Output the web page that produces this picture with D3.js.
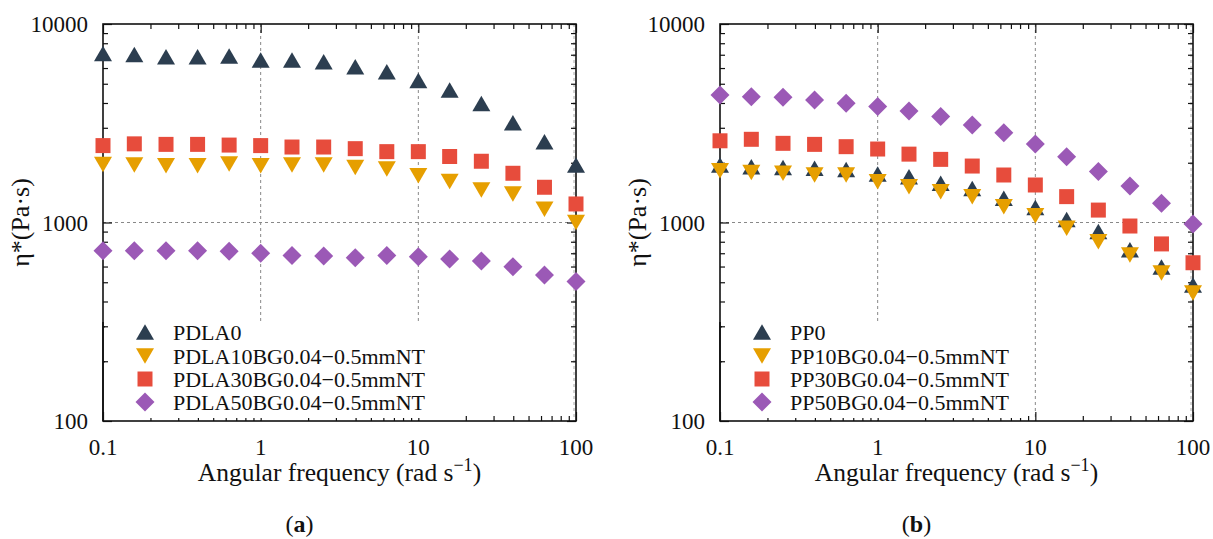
<!DOCTYPE html>
<html>
<head>
<meta charset="utf-8">
<script src="https://cdn.jsdelivr.net/npm/d3@7"></script>
<style>
  html, body { margin: 0; padding: 0; background: #fff; }
  svg { display: block; }
  text { font-family: "Liberation Serif", "DejaVu Serif", serif; fill: #111; }
</style>
</head>
<body>
<svg id="chart" width="1213" height="539" font-family="Liberation Serif, serif"></svg>
<script>
// ---- data ----
const freq = [0.1, 0.158, 0.251, 0.398, 0.631, 1, 1.58, 2.51, 3.98, 6.31, 10, 15.8, 25.1, 39.8, 63.1, 100];

const seriesNamesA = ["PDLA0", "PDLA10BG0.04\u22120.5mmNT", "PDLA30BG0.04\u22120.5mmNT", "PDLA50BG0.04\u22120.5mmNT"];
const pdla0  = [7110, 7030, 6840, 6840, 6900, 6590, 6590, 6450, 6090, 5750, 5190, 4650, 3980, 3180, 2550, 1950];
const pdla10 = [1960, 1950, 1930, 1930, 1970, 1930, 1950, 1950, 1890, 1860, 1720, 1610, 1460, 1390, 1165, 1000];
const pdla30 = [2440, 2490, 2475, 2475, 2455, 2440, 2400, 2400, 2355, 2275, 2275, 2150, 2035, 1770, 1505, 1240];
const pdla50 = [721, 721, 721, 721, 716, 700, 681, 678, 665, 681, 673, 655, 640, 599, 544, 504];

const seriesNamesB = ["PP0", "PP10BG0.04\u22120.5mmNT", "PP30BG0.04\u22120.5mmNT", "PP50BG0.04\u22120.5mmNT"];
const pp0  = [1950, 1910, 1895, 1875, 1850, 1755, 1700, 1575, 1485, 1325, 1190, 1035, 900, 730, 597, 484];
const pp10 = [1825, 1785, 1770, 1735, 1735, 1605, 1515, 1430, 1350, 1200, 1080, 935, 800, 686, 557, 442];
const pp30 = [2580, 2625, 2505, 2475, 2410, 2345, 2210, 2080, 1925, 1735, 1545, 1350, 1155, 960, 780, 627];
const pp50 = [4390, 4300, 4270, 4145, 3985, 3835, 3645, 3415, 3100, 2835, 2485, 2145, 1805, 1525, 1250, 982];

const xTickValues = [0.1, 1, 10, 100];
const xTickLabels = ["0.1", "1", "10", "100"];
const yTickValues = [100, 1000, 10000];
const yTickLabels = ["100", "1000", "10000"];
const xTitle = "Angular frequency (rad s";
const yTitle = "\u03B7*(Pa\u00B7s)";
const panelLabels = ["a", "b"];

const colors = ["#2c3e50", "#e69f00", "#e74c3c", "#9b59b6"];
const shapes = ["up", "down", "square", "diamond"];

// ---- drawing ----
const svg = d3.select("#chart");

function markerPath(shape) {
  const w = 18, h = 15.5, s = 15, d = 9.5;
  if (shape === "up") return `M0,${-h/2}L${w/2},${h/2}L${-w/2},${h/2}Z`;
  if (shape === "down") return `M0,${h/2}L${w/2},${-h/2}L${-w/2},${-h/2}Z`;
  if (shape === "square") return `M${-s/2},${-s/2}h${s}v${s}h${-s}Z`;
  return `M0,${-d}L${d},0L0,${d}L${-d},0Z`;
}

function drawPanel(cfg) {
  const { left, right, top, bottom, names, values, legendW, label } = cfg;
  const x = d3.scaleLog().domain([0.1, 100]).range([left, right]);
  const y = d3.scaleLog().domain([100, 10000]).range([bottom, top]);
  const g = svg.append("g");

  // grid lines (decades)
  const gridX = [1, 10];
  g.selectAll(".gx").data(gridX).join("line")
    .attr("x1", d => x(d)).attr("x2", d => x(d))
    .attr("y1", top).attr("y2", bottom)
    .attr("stroke", "#888").attr("stroke-width", 1).attr("stroke-dasharray", "3,3");
  g.selectAll(".gy").data([1000]).join("line")
    .attr("x1", left).attr("x2", right)
    .attr("y1", d => y(d)).attr("y2", d => y(d))
    .attr("stroke", "#888").attr("stroke-width", 1).attr("stroke-dasharray", "3,3");
  g.append("line")
    .attr("x1", x(100) - 2).attr("x2", x(100) - 2)
    .attr("y1", top).attr("y2", bottom)
    .attr("stroke", "#aaa").attr("stroke-width", 1).attr("stroke-dasharray", "3,3");

  // minor/major ticks via d3 axes (inward)
  const xMinor = [];
  for (let dec = 0.1; dec < 100; dec *= 10) for (let k = 2; k <= 9; k++) xMinor.push(+(dec * k).toPrecision(3));
  const yMinor = [];
  for (let dec = 100; dec < 10000; dec *= 10) for (let k = 2; k <= 9; k++) yMinor.push(dec * k);

  function axisGroup(axis, tx, ty) {
    const a = g.append("g").attr("transform", `translate(${tx},${ty})`).call(axis);
    a.selectAll("text").remove();
    a.select(".domain").remove();
    a.selectAll("line").attr("stroke", "#111").attr("stroke-width", 1.2);
    return a;
  }
  axisGroup(d3.axisBottom(x).tickValues(xTickValues).tickSize(-9).tickFormat(""), 0, bottom);
  axisGroup(d3.axisBottom(x).tickValues(xMinor).tickSize(-5).tickFormat(""), 0, bottom);
  axisGroup(d3.axisTop(x).tickValues(xTickValues).tickSize(-9).tickFormat(""), 0, top);
  axisGroup(d3.axisTop(x).tickValues(xMinor).tickSize(-5).tickFormat(""), 0, top);
  axisGroup(d3.axisLeft(y).tickValues(yTickValues).tickSize(-9).tickFormat(""), left, 0);
  axisGroup(d3.axisLeft(y).tickValues(yMinor).tickSize(-5).tickFormat(""), left, 0);
  axisGroup(d3.axisRight(y).tickValues(yTickValues).tickSize(-9).tickFormat(""), right, 0);
  axisGroup(d3.axisRight(y).tickValues(yMinor).tickSize(-5).tickFormat(""), right, 0);

  // frame
  g.append("rect").attr("x", left).attr("y", top)
    .attr("width", right - left).attr("height", bottom - top)
    .attr("fill", "none").attr("stroke", "#111").attr("stroke-width", 1.6);

  // tick labels
  g.selectAll(".xl").data(xTickValues).join("text")
    .attr("x", d => x(d)).attr("y", bottom + 34)
    .attr("text-anchor", "middle").attr("font-size", 23)
    .text((d, i) => xTickLabels[i]);
  g.selectAll(".yl").data(yTickValues).join("text")
    .attr("x", left - 15).attr("y", d => y(d) + 8)
    .attr("text-anchor", "end").attr("font-size", 23)
    .text((d, i) => yTickLabels[i]);

  // axis titles
  const xt = g.append("text").attr("x", (left + right) / 2).attr("y", bottom + 60)
    .attr("text-anchor", "middle").attr("font-size", 25.5);
  xt.append("tspan").text(xTitle);
  xt.append("tspan").attr("dy", -10).attr("font-size", 18).text("\u22121");
  xt.append("tspan").attr("dy", 10).text(")");

  g.append("text")
    .attr("transform", `translate(${left - 74},${(top + bottom) / 2}) rotate(-90)`)
    .attr("text-anchor", "middle").attr("font-size", 26)
    .text(yTitle);

  // legend background (opaque)
  const legTop = bottom - 99;
  g.append("rect").attr("x", left + 2).attr("y", legTop).attr("width", legendW).attr("height", 96)
    .attr("fill", "#fff");
  axisGroup(d3.axisLeft(y).tickValues(yMinor.filter(v => y(v) > legTop)).tickSize(-5).tickFormat(""), left, 0);
  g.append("line").attr("x1", left).attr("x2", left).attr("y1", legTop).attr("y2", bottom)
    .attr("stroke", "#111").attr("stroke-width", 1.6);

  // data points
  values.forEach((vals, si) => {
    g.append("g").selectAll("path").data(vals).join("path")
      .attr("d", markerPath(shapes[si]))
      .attr("transform", (v, i) => `translate(${x(freq[i])},${y(v)})`)
      .attr("fill", colors[si]);
  });

  // legend entries
  const rowY = [bottom - 89, bottom - 65, bottom - 42, bottom - 19];
  names.forEach((n, i) => {
    g.append("path").attr("d", markerPath(shapes[i]))
      .attr("transform", `translate(${left + 42},${rowY[i]})`)
      .attr("fill", colors[i]);
    g.append("text").attr("x", left + 70).attr("y", rowY[i] + 8)
      .attr("font-size", 22).text(n);
  });

  // panel label
  const pl = g.append("text").attr("x", (left + right) / 2 - 40).attr("y", bottom + 111)
    .attr("text-anchor", "middle").attr("font-size", 24);
  pl.append("tspan").text("(");
  pl.append("tspan").attr("font-weight", "bold").text(label);
  pl.append("tspan").text(")");
}

drawPanel({ left: 103, right: 576, top: 24, bottom: 421,
  names: seriesNamesA, values: [pdla0, pdla10, pdla30, pdla50], legendW: 330, label: panelLabels[0] });
drawPanel({ left: 720, right: 1193, top: 24, bottom: 421,
  names: seriesNamesB, values: [pp0, pp10, pp30, pp50], legendW: 300, label: panelLabels[1] });
</script>
</body>
</html>
